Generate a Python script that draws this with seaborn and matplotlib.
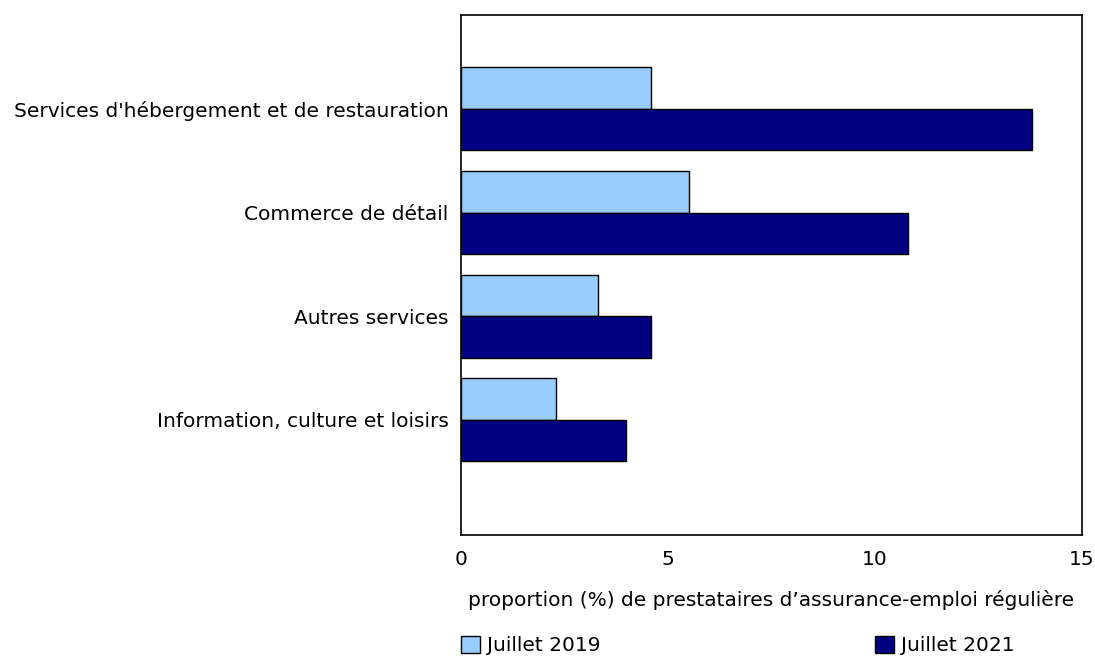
import numpy as np
import pandas as pd
import matplotlib
matplotlib.use("Agg")
import matplotlib.pyplot as plt
import seaborn as sns

categories = ["Services d'hébergement et de restauration",
              "Commerce de détail",
              "Autres services",
              "Information, culture et loisirs"]
series = ["Juillet 2019", "Juillet 2021"]
juillet_2019 = [4.6, 5.5, 3.3, 2.3]
juillet_2021 = [13.8, 10.8, 4.6, 4.0]
colors = ["#99CCFF", "#000080"]

df = pd.DataFrame({
    "categorie": categories * 2,
    "periode": [series[0]] * 4 + [series[1]] * 4,
    "valeur": juillet_2019 + juillet_2021,
})

sns.set_style("white")
plt.rcParams["font.family"] = ["DejaVu Sans"]
plt.rcParams["text.color"] = "black"
plt.rcParams["xtick.color"] = "black"
plt.rcParams["ytick.color"] = "black"
plt.rcParams["axes.labelcolor"] = "black"

fs = 14.5

fig = plt.figure(figsize=(10.95, 6.56), dpi=100)
ax = fig.add_axes([0.421, 0.1845, 0.5667, 0.7926])

sns.barplot(data=df, y="categorie", x="valeur", hue="periode",
            palette=colors, saturation=1, orient="h", width=0.8,
            edgecolor="black", linewidth=1, ax=ax, legend=True)

ax.set_xlim(0, 15)
ax.set_ylim(4.11, -0.906)
ax.set_xticks([0, 5, 10, 15])
ax.tick_params(axis="x", direction="in", length=5, width=1, pad=11,
               labelsize=fs)
ax.tick_params(axis="y", length=0, pad=9, labelsize=fs)
for s in ax.spines.values():
    s.set_visible(True)
    s.set_color("black")
    s.set_linewidth(1.2)

ax.set_ylabel("")
ax.set_xlabel("proportion (%) de prestataires d’assurance-emploi régulière",
              fontsize=fs, labelpad=15)

handles, labels = ax.get_legend_handles_labels()
ax.legend(handles, labels, loc="upper left", bbox_to_anchor=(0.0, -0.194),
          ncol=2, frameon=False, fontsize=fs, handlelength=0.95,
          handleheight=0.95, handletextpad=0.35, columnspacing=13.6,
          borderaxespad=0, borderpad=0)

fig.savefig("out.png", dpi=100)
